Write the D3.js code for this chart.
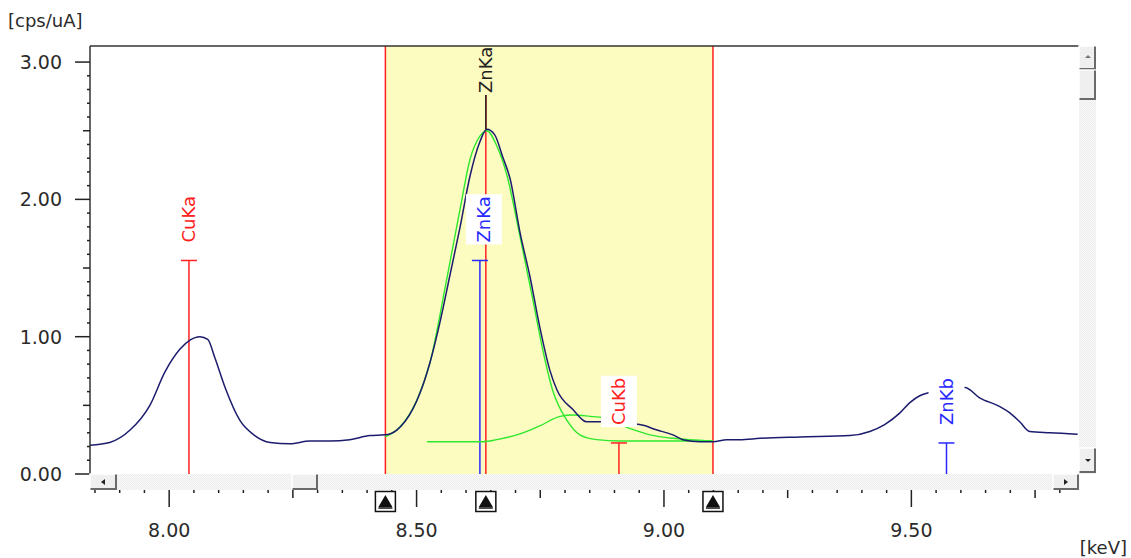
<!DOCTYPE html>
<html>
<head>
<meta charset="utf-8">
<script src="https://cdn.jsdelivr.net/npm/d3@7"></script>
<style>
  body { margin: 0; background: #fff; }
  svg { display: block; font-family: "DejaVu Sans", Verdana, sans-serif; }
</style>
</head>
<body>
<div id="chart"></div>
<script>
// spectrum, [keV, cps/uA]
const spectrum = [
  [7.840,0.21],[7.880,0.23],[7.921,0.32],[7.961,0.50],[7.991,0.74],[8.022,0.91],
  [8.042,0.975],[8.062,1.00],[8.078,0.98],[8.092,0.85],[8.113,0.63],[8.143,0.39],
  [8.173,0.28],[8.204,0.23],[8.244,0.22],[8.284,0.24],[8.325,0.24],[8.365,0.25],
  [8.406,0.28],[8.436,0.285],[8.460,0.32],[8.492,0.47],[8.507,0.59],[8.527,0.81],
  [8.547,1.10],[8.567,1.44],[8.588,1.80],[8.608,2.17],[8.628,2.42],[8.642,2.51],
  [8.658,2.47],[8.674,2.31],[8.689,2.15],[8.709,1.76],[8.729,1.44],[8.749,1.07],
  [8.769,0.76],[8.784,0.61],[8.816,0.47],[8.844,0.38],[8.874,0.38],[8.911,0.37],
  [8.951,0.36],[8.986,0.32],[9.018,0.285],[9.038,0.25],[9.073,0.235],[9.099,0.235],
  [9.127,0.25],[9.153,0.25],[9.194,0.26],[9.275,0.27],[9.376,0.28],[9.416,0.31],
  [9.446,0.36],[9.477,0.445],[9.497,0.52],[9.517,0.57],[9.533,0.59],[9.568,0.61],
  [9.608,0.63],[9.638,0.555],[9.679,0.49],[9.699,0.445],[9.719,0.38],[9.739,0.31],
  [9.780,0.30],[9.836,0.29]
];

// fitted ZnKa peak
const fitMain = [
  [8.436,0.27],[8.466,0.34],[8.501,0.54],[8.527,0.81],[8.561,1.42],[8.588,1.93],
  [8.608,2.29],[8.628,2.46],[8.642,2.50],[8.662,2.39],[8.683,2.17],[8.709,1.73],
  [8.735,1.27],[8.755,0.905],[8.775,0.61],[8.804,0.39],[8.830,0.285],[8.864,0.25],
  [8.911,0.24],[8.992,0.24],[9.099,0.24]
];

// fitted CuKb overlap
const fitSecond = [
  [8.521,0.235],[8.634,0.235],[8.662,0.25],[8.715,0.30],[8.749,0.35],[8.790,0.42],
  [8.816,0.43],[8.851,0.42],[8.877,0.41],[8.932,0.33],[8.972,0.285],[9.018,0.26],
  [9.052,0.25],[9.099,0.24]
];

const lineNames  = ["CuKa", "ZnKa", "CuKb", "ZnKb"];
const lineEnergy = [8.040, 8.628, 8.909, 9.571];
const lineHeight = [1.555, 1.555, 0.226, 0.226];
const lineColor  = ["#ff2020", "#2828ff", "#ff2020", "#2828ff"];

const roiMarks = [8.437, 8.640, 9.099];   // roi start, centre, end
const peakLabel = "ZnKa";
const peakTop = 2.51;

const yMajor = [0, 1, 2, 3];
const xMajor = [8.0, 8.5, 9.0, 9.5];

const width = 1131, height = 558;
const L = 90, R = 1079.6, T = 46, B = 474;

const x = d3.scaleLinear().domain([7.84, 9.84]).range([L, R]);
const y = d3.scaleLinear().domain([0, 3.117]).range([B, T]);

const svg = d3.select("#chart").append("svg")
  .attr("width", width).attr("height", height);

const defs = svg.append("defs");
defs.append("clipPath").attr("id", "plotclip")
  .append("rect").attr("x", L).attr("y", T).attr("width", R - L).attr("height", B - T);
const hatch = defs.append("pattern").attr("id", "hatch")
  .attr("width", 2).attr("height", 2).attr("patternUnits", "userSpaceOnUse");
hatch.append("rect").attr("width", 2).attr("height", 2).attr("fill", "#fafafa");
hatch.append("rect").attr("width", 1).attr("height", 1).attr("fill", "#ececec");
hatch.append("rect").attr("x", 1).attr("y", 1).attr("width", 1).attr("height", 1).attr("fill", "#ececec");

const plot = svg.append("g").attr("clip-path", "url(#plotclip)");

// ROI band
plot.append("rect")
  .attr("x", x(roiMarks[0])).attr("y", T)
  .attr("width", x(roiMarks[2]) - x(roiMarks[0])).attr("height", B - T)
  .attr("fill", "#fcfbc0");

plot.selectAll(".roi").data(roiMarks).join("line")
  .attr("x1", d => x(d)).attr("x2", d => x(d))
  .attr("y1", T).attr("y2", B)
  .attr("stroke", "#ff2020").attr("stroke-width", 1.5);

// element lines
const elems = lineNames.map((n, i) => ({name: n, e: lineEnergy[i], h: lineHeight[i], c: lineColor[i]}));
elems.forEach(d => {
  plot.append("line")
    .attr("x1", x(d.e)).attr("x2", x(d.e)).attr("y1", y(d.h)).attr("y2", B)
    .attr("stroke", d.c).attr("stroke-width", 1.5);
  plot.append("line")
    .attr("x1", x(d.e) - 8).attr("x2", x(d.e) + 8).attr("y1", y(d.h)).attr("y2", y(d.h))
    .attr("stroke", d.c).attr("stroke-width", 1.5);
});

const line = d3.line().curve(d3.curveMonotoneX).x(d => x(d[0])).y(d => y(d[1]));

plot.append("path").datum(fitSecond).attr("d", line)
  .attr("fill", "none").attr("stroke", "#2ee82e").attr("stroke-width", 1.4);
plot.append("path").datum(fitMain).attr("d", line)
  .attr("fill", "none").attr("stroke", "#2ee82e").attr("stroke-width", 1.4);
plot.append("path").datum(spectrum).attr("d", line)
  .attr("fill", "none").attr("stroke", "#1c1c6e").attr("stroke-width", 1.5);

// peak marker on top
plot.append("line")
  .attr("x1", x(roiMarks[1])).attr("x2", x(roiMarks[1]))
  .attr("y1", T).attr("y2", y(peakTop))
  .attr("stroke", "#222").attr("stroke-width", 1.5);

function vlabel(g, text, px, py, color, bg) {
  const lg = g.append("g").attr("transform", `translate(${px},${py}) rotate(-90)`);
  const r = lg.append("rect").attr("fill", bg);
  const t = lg.append("text").text(text)
    .attr("x", 0).attr("y", 0)
    .attr("dominant-baseline", "central")
    .attr("font-size", 18).attr("fill", color);
  const len = t.node().getComputedTextLength();
  r.attr("x", -2).attr("y", -18).attr("width", len + 4).attr("height", 36);
}

elems.forEach(d => vlabel(plot, d.name, x(d.e) + (d.name === "ZnKa" ? 4 : 0), y(d.h) - 18, d.c, "#fff"));
vlabel(plot, peakLabel, x(roiMarks[1]), T + 47, "#222", "#fcfbc0");

// axes frame
svg.append("line").attr("x1", L).attr("x2", R).attr("y1", T).attr("y2", T)
  .attr("stroke", "#333").attr("stroke-width", 1.5);
svg.append("line").attr("x1", L).attr("x2", L).attr("y1", T).attr("y2", B)
  .attr("stroke", "#333").attr("stroke-width", 1.5);

// y ticks
const yMinor = d3.range(0, 31).map(i => i / 10);
const yAxisG = svg.append("g");
yMinor.forEach(v => {
  const len = yMajor.includes(v) ? 15 : (Math.abs(v * 2 - Math.round(v * 2)) < 1e-6 ? 7 : 3);
  yAxisG.append("line").attr("x1", L - len).attr("x2", L)
    .attr("y1", y(v)).attr("y2", y(v)).attr("stroke", "#222").attr("stroke-width", 1.5);
});
yAxisG.selectAll("text").data(yMajor).join("text")
  .attr("x", 62).attr("y", d => y(d)).attr("text-anchor", "end")
  .attr("dominant-baseline", "central").attr("font-size", 19).attr("fill", "#2b2b2b")
  .text(d => d3.format(".2f")(d));

// x ticks under scrollbar
const tickY = 490;
const xMinor = d3.range(157, 197).map(i => i / 20);
const xAxisG = svg.append("g");
xMinor.forEach(v => {
  const q = Math.round(v * 4);
  const len = xMajor.some(m => Math.abs(m - v) < 1e-6) ? 17 : (Math.abs(v * 4 - q) < 1e-6 ? 8 : 3);
  xAxisG.append("line").attr("x1", x(v)).attr("x2", x(v))
    .attr("y1", tickY).attr("y2", tickY + len).attr("stroke", "#222").attr("stroke-width", 1.5);
});
xAxisG.selectAll("text").data(xMajor).join("text")
  .attr("x", d => x(d)).attr("y", 537).attr("text-anchor", "middle")
  .attr("font-size", 19).attr("fill", "#2b2b2b")
  .text(d => d3.format(".2f")(d));

// unit labels
svg.append("text").attr("x", 8).attr("y", 27).attr("font-size", 18).attr("fill", "#2b2b2b").text("[cps/uA]");
svg.append("text").attr("x", 1127).attr("y", 554).attr("text-anchor", "end")
  .attr("font-size", 18).attr("fill", "#2b2b2b").text("[keV]");

// scrollbars
function button(g, bx, by, bw, bh) {
  g.append("rect").attr("x", bx).attr("y", by).attr("width", bw).attr("height", bh)
    .attr("fill", "#efefef");
  g.append("path").attr("d", `M${bx},${by + bh} V${by} H${bx + bw}`)
    .attr("stroke", "#fff").attr("fill", "none").attr("stroke-width", 1.5);
  g.append("path").attr("d", `M${bx + 0.5},${by + bh - 1} H${bx + bw - 1} V${by + 0.5}`)
    .attr("stroke", "#6a6a6a").attr("fill", "none").attr("stroke-width", 2);
}
const sb = svg.append("g");
sb.append("rect").attr("x", L).attr("y", B).attr("width", R - L).attr("height", 16).attr("fill", "url(#hatch)");
sb.append("rect").attr("x", R - 0.6).attr("y", T).attr("width", 17).attr("height", B - T).attr("fill", "url(#hatch)");
button(sb, L, B, 27, 16);
button(sb, 292, B, 26, 16);
button(sb, 1053, B, 26, 16);
button(sb, 1079, T, 17, 24);
button(sb, 1079, 70, 17, 30);
button(sb, 1079, 448, 17, 25);
sb.append("path").attr("d", "M101,482 l4,-3 v6 z").attr("fill", "#222");
sb.append("path").attr("d", "M1068,482 l-4,-3 v6 z").attr("fill", "#222");
sb.append("path").attr("d", "M1085,58 l3,-3 l3,3 z").attr("fill", "#777");
sb.append("path").attr("d", "M1085,459 l3,3 l3,-3 z").attr("fill", "#222");

// roi handles
const handles = svg.append("g");
roiMarks.forEach(v => {
  const cx = x(v);
  handles.append("rect").attr("x", cx - 10).attr("y", 491.5).attr("width", 20).attr("height", 20)
    .attr("fill", "#fff").attr("stroke", "#111").attr("stroke-width", 1.5);
  handles.append("path").attr("d", `M${cx - 7},${507} L${cx},${495} L${cx + 7},${507} Z`)
    .attr("fill", "#111");
  handles.append("line").attr("x1", cx - 7).attr("x2", cx + 7).attr("y1", 508).attr("y2", 508)
    .attr("stroke", "#111").attr("stroke-width", 1.5);
});
</script>
</body>
</html>
